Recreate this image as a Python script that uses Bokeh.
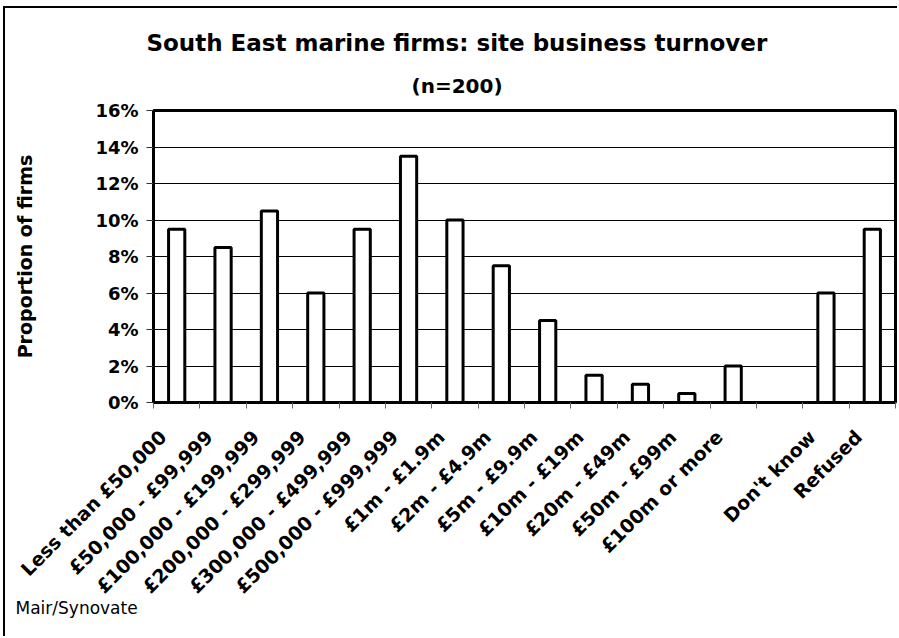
from bokeh.plotting import figure
from bokeh.models import FixedTicker, ColumnDataSource, Title
from bokeh.embed import file_html
from bokeh.resources import INLINE
import math

# Turnover bands (one blank slot before the non-response groups)
categories = [
    "Less than £50,000", "£50,000 - £99,999", "£100,000 - £199,999",
    "£200,000 - £299,999", "£300,000 - £499,999", "£500,000 - £999,999",
    "£1m - £1.9m", "£2m - £4.9m", "£5m - £9.9m", "£10m - £19m",
    "£20m - £49m", "£50m - £99m", "£100m or more", "",
    "Don't know", "Refused",
]
# Share of firms in each band (%)
share = [9.5, 8.5, 10.5, 6.0, 9.5, 13.5, 10.0, 7.5, 4.5, 1.5, 1.0, 0.5, 2.0, 0.0, 6.0, 9.5]
y_ticks = [0, 2, 4, 6, 8, 10, 12, 14, 16]
y_tick_labels = ["0%", "2%", "4%", "6%", "8%", "10%", "12%", "14%", "16%"]

FONT = "DejaVu Sans"

n = len(categories)
centers = [i + 0.5 for i in range(n)]
bounds = [float(i) for i in range(n + 1)]
# slanted labels end a little to the left of their band centre
label_pos = [c - 0.3 for c in centers]

src = ColumnDataSource(dict(x=centers, top=share, cat=categories))

p = figure(
    width=894, height=630,
    x_range=(0, n), y_range=(0, 16),
    output_backend="svg", toolbar_location=None, title=None,
    min_border_left=148, min_border_right=4,
    min_border_top=102, min_border_bottom=236,
)
p.margin = (6, 0, 0, 3)
p.styles = {"border-left": "2px solid black", "border-top": "2px solid black"}
p.background_fill_color = "white"
p.border_fill_color = "white"
p.outline_line_color = "black"
p.outline_line_width = 3

p.vbar(x="x", top="top", bottom=0, width=0.35, source=src,
       fill_color="white", line_color="black", line_width=3)

# Y axis
p.yaxis.ticker = FixedTicker(ticks=y_ticks)
p.yaxis.major_label_overrides = {t: l for t, l in zip(y_ticks, y_tick_labels)}
p.yaxis.major_label_text_font = FONT
p.yaxis.major_label_text_font_style = "bold"
p.yaxis.major_label_text_font_size = "18px"
p.yaxis.major_label_text_color = "black"
p.yaxis.major_tick_in = 0
p.yaxis.major_tick_out = 7
p.yaxis.major_tick_line_color = "#333333"
p.yaxis.minor_tick_line_color = None
p.yaxis.major_label_standoff = 8
p.yaxis.axis_line_width = 3
p.yaxis.axis_line_color = "black"
p.yaxis.axis_label = "Proportion of firms"
p.yaxis.axis_label_text_font = FONT
p.yaxis.axis_label_text_font_style = "bold"
p.yaxis.axis_label_text_font_size = "19px"
p.yaxis.axis_label_text_color = "black"
p.yaxis.axis_label_standoff = 56

# X axis: slanted labels near band centres, tick marks on band boundaries
p.xaxis.ticker = FixedTicker(ticks=label_pos, minor_ticks=bounds)
p.xaxis.major_label_overrides = {c: l for c, l in zip(label_pos, categories)}
p.xaxis.major_label_orientation = math.pi / 4
p.xaxis.major_label_text_font = FONT
p.xaxis.major_label_text_font_style = "bold"
p.xaxis.major_label_text_font_size = "19px"
p.xaxis.major_label_text_color = "black"
p.xaxis.major_tick_in = 0
p.xaxis.major_tick_out = 0
p.xaxis.minor_tick_in = 0
p.xaxis.minor_tick_out = 6
p.xaxis.minor_tick_line_color = "#666666"
p.xaxis.major_label_standoff = 25
p.xaxis.axis_line_width = 3
p.xaxis.axis_line_color = "black"

p.ygrid.ticker = FixedTicker(ticks=y_ticks)
p.ygrid.grid_line_color = "black"
p.ygrid.grid_line_width = 1
p.xgrid.grid_line_color = None

# Titles (later additions stack further from the frame)
p.add_layout(Title(text="(n=200)", align="left", offset=258,
                   text_font=FONT, text_font_style="bold", text_font_size="20px",
                   text_color="black", standoff=26), "above")
p.add_layout(Title(text="South East marine firms: site business turnover",
                   align="left", offset=-7,
                   text_font=FONT, text_font_style="bold", text_font_size="23px",
                   text_color="black", standoff=5), "above")

# Source note, tucked up beside the slanted labels
p.add_layout(Title(text="Mair/Synovate", align="left", offset=-138,
                   vertical_align="top",
                   text_font=FONT, text_font_style="normal", text_font_size="17px",
                   text_color="black", standoff=-22), "below")

open("out.html", "w").write(file_html(p, INLINE))
